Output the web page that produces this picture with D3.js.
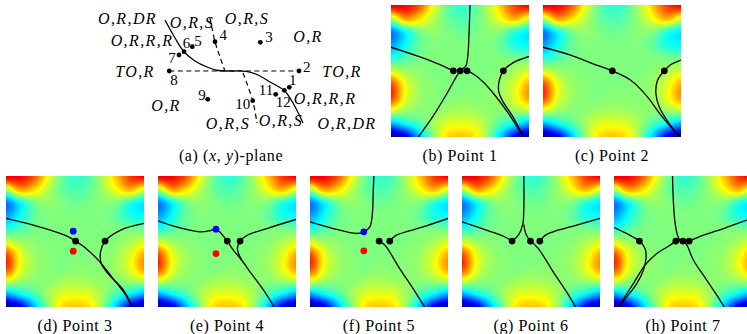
<!DOCTYPE html>
<html>
<head>
<meta charset="UTF-8">
<title>Solution branches</title>
<script src="https://d3js.org/d3.v7.min.js"></script>
<style>
  body { margin: 0; background: #fff; }
  svg text { font-family: "Liberation Serif", "Times New Roman", serif; fill: #000; }
  .caption { font-size: 16px; letter-spacing: 0.6px; }
  .region { font-size: 16px; font-style: italic; letter-spacing: 1.4px; }
  .num { font-size: 15px; }
</style>
</head>
<body>
<svg width="747" height="334"></svg>
<script>
// background field (jet scale 0..1), rows top->bottom, cols left->right
const fieldGrid = [
  [0.90, 0.88, 0.80, 0.62, 0.48, 0.42, 0.45, 0.55, 0.68, 0.82, 0.88],
  [0.55, 0.72, 0.66, 0.56, 0.48, 0.45, 0.47, 0.53, 0.62, 0.70, 0.60],
  [0.25, 0.38, 0.49, 0.52, 0.50, 0.48, 0.49, 0.51, 0.50, 0.42, 0.36],
  [0.28, 0.38, 0.47, 0.50, 0.50, 0.50, 0.50, 0.50, 0.47, 0.40, 0.38],
  [0.40, 0.45, 0.49, 0.50, 0.50, 0.50, 0.50, 0.50, 0.50, 0.49, 0.48],
  [0.58, 0.53, 0.51, 0.50, 0.50, 0.50, 0.50, 0.50, 0.51, 0.54, 0.58],
  [0.80, 0.61, 0.53, 0.51, 0.50, 0.50, 0.50, 0.51, 0.53, 0.59, 0.70],
  [0.82, 0.61, 0.53, 0.51, 0.50, 0.51, 0.51, 0.51, 0.53, 0.60, 0.72],
  [0.60, 0.53, 0.51, 0.51, 0.53, 0.54, 0.53, 0.52, 0.51, 0.53, 0.56],
  [0.30, 0.38, 0.45, 0.53, 0.59, 0.60, 0.59, 0.53, 0.45, 0.38, 0.30],
  [0.02, 0.10, 0.30, 0.50, 0.65, 0.68, 0.65, 0.52, 0.32, 0.12, 0.04]
];

// (x,y)-plane panel
const planeSolid = [[-6.7,5.1],[-5.7,3.3],[-4.8,1.93],[-3.7,1.0],[-2.5,0.4],[-1.4,0.05],[0,0],
  [1.4,-0.03],[2.6,-0.4],[3.8,-1.1],[5.2,-1.93],[6.1,-3.2],[7.1,-5.2]];
const planeDashed = [
  [[-6.27,0],[6.7,0]],
  [[-2.2,5.3],[-1.7,2.93],[-1.2,1.4],[-0.7,0.0]],
  [[1.1,-0.2],[2.07,-2.97],[2.5,-5.2]]
];
const planePoints = [[5.73,-1.63],[6.7,0],[2.83,2.87],[-1.7,2.93],[-3.97,2.43],[-4.8,1.93],
  [-5.3,1.6],[-6.27,0],[-2.43,-2.83],[2.07,-2.97],[4.37,-2.33],[5.23,-1.93]];
const pointLabels = [[6.07,-0.9],[7.47,0.43],[3.7,3.37],[-0.87,3.6],[-3.4,3.0],[-4.55,2.77],
  [-6.0,1.3],[-5.8,-0.9],[-3.0,-2.4],[1.07,-3.33],[3.4,-1.9],[5.13,-3.07]];
const regionNames = ["O,R,DR","O,R,S","O,R,S","O,R","O,R,R,R","TO,R","TO,R","O,R",
  "O,R,R,R","O,R,S","O,R,S","O,R,DR"];
const regionPos = [[-10.45,5.3],[-4.0,4.9],[1.5,5.3],[7.6,3.5],[-9.0,3.05],[-9.7,0],[11.0,0],
  [-6.6,-3.4],[9.3,-2.7],[-0.4,-5.2],[4.9,-4.9],[11.5,-5.2]];

// map panels: curves and dots in unit coordinates (u right, v down)
const captions = ["(b) Point 1","(c) Point 2","(d) Point 3","(e) Point 4","(f) Point 5","(g) Point 6","(h) Point 7"];
const curves1 = [
  [[0,0.32],[0.2,0.39],[0.35,0.45],[0.452,0.499]],
  [[0.551,0.499],[0.6,0.525],[0.67,0.585],[0.75,0.68],[0.85,0.82],[0.96,1.0]],
  [[0.572,0],[0.566,0.2],[0.557,0.38],[0.543,0.46],[0.502,0.499],[0.47,0.55],[0.40,0.68],[0.30,0.85],[0.198,1.0]],
  [[1,0.39],[0.88,0.44],[0.814,0.499],[0.785,0.57],[0.78,0.65],[0.81,0.73],[0.88,0.84],[0.96,1.0]]
];
const curves2 = [
  [[0,0.32],[0.2,0.38],[0.35,0.44],[0.502,0.499],[0.636,0.57],[0.757,0.696],[0.854,0.835],[0.99,1.0]],
  [[1,0.418],[0.92,0.456],[0.879,0.499],[0.83,0.57],[0.818,0.67],[0.842,0.77],[0.915,0.899],[0.99,1.0]]
];
const curves3 = [
  [[0,0.324],[0.198,0.375],[0.438,0.457],[0.504,0.497],[0.58,0.553],[0.68,0.656],[0.776,0.783],[0.86,0.898],[0.916,1.0]],
  [[1,0.362],[0.831,0.413],[0.718,0.497],[0.685,0.58],[0.69,0.668],[0.75,0.758],[0.85,0.87],[0.916,1.0]]
];
const curves4 = [
  [[0,0.342],[0.133,0.388],[0.303,0.426],[0.376,0.418],[0.42,0.406],[0.502,0.497],[0.546,0.566],
   [0.607,0.643],[0.667,0.732],[0.765,0.872],[0.842,1]],
  [[1,0.332],[0.789,0.401],[0.643,0.454],[0.595,0.497],[0.575,0.556],[0.607,0.643]]
];
const curves5 = [
  [[0,0.35],[0.169,0.401],[0.337,0.439],[0.39,0.426],[0.434,0.388],[0.453,0.273],[0.458,0.12],[0.463,0]],
  [[0.501,0.497],[0.54,0.525],[0.566,0.56],[0.65,0.707],[0.747,0.86],[0.831,1]],
  [[0.578,0.497],[0.62,0.455],[0.70,0.425],[0.843,0.38],[1,0.324]]
];
const curves6 = [
  [[0,0.35],[0.177,0.413],[0.30,0.46],[0.363,0.497]],
  [[0.448,0],[0.448,0.25],[0.44,0.37],[0.41,0.45],[0.363,0.497]],
  [[0.448,0.37],[0.462,0.44],[0.496,0.497]],
  [[0.564,0.497],[0.60,0.455],[0.661,0.426],[0.831,0.375],[1,0.324]],
  [[0.496,0.497],[0.552,0.553],[0.661,0.732],[0.758,0.885],[0.823,1]]
];
const curves7 = [
  [[0,0.393],[0.092,0.439],[0.184,0.497],[0.225,0.554],[0.232,0.63],[0.213,0.719],[0.165,0.821],[0.092,0.923],[0.031,1]],
  [[0.031,1],[0.14,0.821],[0.225,0.681],[0.31,0.592],[0.395,0.536],[0.448,0.497]],
  [[0.424,0],[0.431,0.209],[0.443,0.362],[0.46,0.452],[0.48,0.497]],
  [[0.545,0.497],[0.649,0.452],[0.794,0.401],[0.964,0.337],[1.05,0.31]],
  [[0.499,0.497],[0.528,0.528],[0.576,0.643],[0.673,0.796],[0.746,0.911],[0.799,1]]
];
const dots1 = [[0.452,0.499,"k"],[0.502,0.499,"k"],[0.551,0.499,"k"],[0.814,0.499,"k"]];
const dots2 = [[0.502,0.499,"k"],[0.879,0.499,"k"]];
const dots3 = [[0.504,0.497,"k"],[0.718,0.497,"k"],[0.487,0.421,"b"],[0.487,0.574,"r"]];
const dots4 = [[0.502,0.497,"k"],[0.595,0.497,"k"],[0.42,0.406,"b"],[0.42,0.592,"r"]];
const dots5 = [[0.501,0.497,"k"],[0.578,0.497,"k"],[0.39,0.426,"b"],[0.39,0.571,"r"]];
const dots6 = [[0.363,0.497,"k"],[0.496,0.497,"k"],[0.564,0.497,"k"]];
const dots7 = [[0.184,0.497,"k"],[0.448,0.497,"k"],[0.499,0.497,"k"],[0.545,0.497,"k"]];

const allCurves = [curves1, curves2, curves3, curves4, curves5, curves6, curves7];
const allDots = [dots1, dots2, dots3, dots4, dots5, dots6, dots7];
// panel boxes [x, y, w, h]
const boxes = [[391,5,138,132],[543,5,138,132],[6,176,138,131],[158,176,138,131],
  [310,176,138,131],[462,176,138,131],[614,176,138,131]];
const dotColor = { k: "#000", b: "#0000ff", r: "#ff0000" };

const svg = d3.select("svg");

// jet colour map
const jet = d3.scaleLinear()
  .domain([0, 0.125, 0.375, 0.625, 0.875, 1])
  .range(["#00007f", "#0000ff", "#00ffff", "#ffff00", "#ff0000", "#7f0000"])
  .clamp(true);

function cr(p0, p1, p2, p3, t) {
  return 0.5 * (2 * p1 + (-p0 + p2) * t + (2 * p0 - 5 * p1 + 4 * p2 - p3) * t * t
    + (-p0 + 3 * p1 - 3 * p2 + p3) * t * t * t);
}
function fieldAt(u, v) {
  const n = fieldGrid.length - 1, m = fieldGrid[0].length - 1;
  const gy = v * n, gx = u * m;
  const iy = Math.min(Math.floor(gy), n - 1), ix = Math.min(Math.floor(gx), m - 1);
  const ty = gy - iy, tx = gx - ix;
  const row = r => fieldGrid[Math.max(0, Math.min(n, r))];
  const col = (r, c) => r[Math.max(0, Math.min(m, c))];
  const vals = [-1, 0, 1, 2].map(d => {
    const r = row(iy + d);
    return cr(col(r, ix - 1), col(r, ix), col(r, ix + 1), col(r, ix + 2), tx);
  });
  return cr(vals[0], vals[1], vals[2], vals[3], ty);
}

// raster the field once
const W = 138, H = 132;
const canvas = document.createElement("canvas");
canvas.width = W; canvas.height = H;
const ctx = canvas.getContext("2d");
const img = ctx.createImageData(W, H);
for (let j = 0; j < H; j++) {
  for (let i = 0; i < W; i++) {
    const c = d3.rgb(jet(fieldAt(i / (W - 1), j / (H - 1))));
    const k = 4 * (j * W + i);
    img.data[k] = c.r; img.data[k + 1] = c.g; img.data[k + 2] = c.b; img.data[k + 3] = 255;
  }
}
ctx.putImageData(img, 0, 0);
const fieldURL = canvas.toDataURL();

const defs = svg.append("defs");

boxes.forEach((b, p) => {
  const [x0, y0, w, h] = b;
  const xs = d3.scaleLinear().domain([0, 1]).range([x0, x0 + w]);
  const ys = d3.scaleLinear().domain([0, 1]).range([y0, y0 + h]);
  defs.append("clipPath").attr("id", "clip" + p)
    .append("rect").attr("x", x0).attr("y", y0).attr("width", w).attr("height", h);

  const g = svg.append("g").attr("clip-path", `url(#clip${p})`);
  g.append("image")
    .attr("href", fieldURL)
    .attr("x", x0).attr("y", y0).attr("width", w).attr("height", h)
    .attr("preserveAspectRatio", "none");

  const line = d3.line()
    .x(d => xs(d[0])).y(d => ys(d[1]))
    .curve(d3.curveCatmullRom.alpha(0.5));
  g.selectAll("path.branch")
    .data(allCurves[p])
    .enter().append("path")
    .attr("class", "branch")
    .attr("d", line)
    .attr("fill", "none")
    .attr("stroke", "#000")
    .attr("stroke-width", 1.3);

  g.selectAll("circle")
    .data(allDots[p])
    .enter().append("circle")
    .attr("cx", d => xs(d[0]))
    .attr("cy", d => ys(d[1]))
    .attr("r", 3.4)
    .attr("fill", d => dotColor[d[2]]);

  svg.append("text")
    .attr("class", "caption")
    .attr("x", x0 + w / 2)
    .attr("y", p < 2 ? 161 : 331)
    .attr("text-anchor", "middle")
    .text(captions[p]);
});

// (x,y)-plane
const px = d3.scaleLinear().domain([-8, 8]).range([152, 312]);
const py = d3.scaleLinear().domain([-6, 6]).range([131, 11]);
const pline = d3.line().x(d => px(d[0])).y(d => py(d[1])).curve(d3.curveCatmullRom.alpha(0.5));

svg.selectAll("path.dashed")
  .data(planeDashed)
  .enter().append("path")
  .attr("class", "dashed")
  .attr("d", pline)
  .attr("fill", "none")
  .attr("stroke", "#000")
  .attr("stroke-width", 1.2)
  .attr("stroke-dasharray", "5,3.5");

svg.append("path")
  .attr("d", pline(planeSolid))
  .attr("fill", "none")
  .attr("stroke", "#000")
  .attr("stroke-width", 1.3);

svg.selectAll("circle.pt")
  .data(planePoints)
  .enter().append("circle")
  .attr("class", "pt")
  .attr("cx", d => px(d[0]))
  .attr("cy", d => py(d[1]))
  .attr("r", 2.4)
  .attr("fill", "#000");

svg.selectAll("text.num")
  .data(pointLabels)
  .enter().append("text")
  .attr("class", "num")
  .attr("x", d => px(d[0]))
  .attr("y", d => py(d[1]))
  .attr("text-anchor", "middle")
  .attr("dominant-baseline", "central")
  .text((d, i) => i + 1);

svg.selectAll("text.region")
  .data(regionNames)
  .enter().append("text")
  .attr("class", "region")
  .attr("x", (d, i) => px(regionPos[i][0]))
  .attr("y", (d, i) => py(regionPos[i][1]))
  .attr("text-anchor", "middle")
  .attr("dominant-baseline", "central")
  .text(d => d);

const capA = svg.append("text")
  .attr("class", "caption")
  .attr("x", 231)
  .attr("y", 161)
  .attr("text-anchor", "middle");
capA.append("tspan").text("(a) (");
capA.append("tspan").attr("font-style", "italic").text("x");
capA.append("tspan").text(", ");
capA.append("tspan").attr("font-style", "italic").text("y");
capA.append("tspan").text(")-plane");
</script>
</body>
</html>
